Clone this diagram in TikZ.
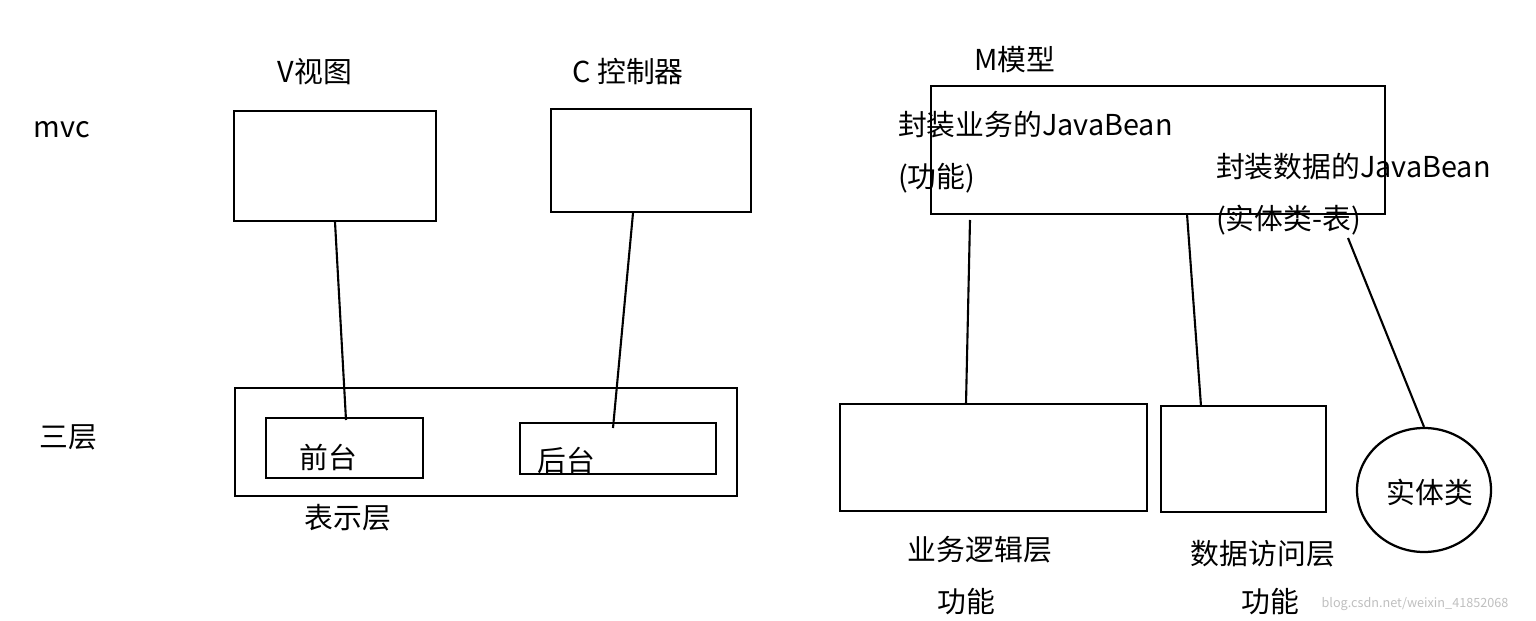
\documentclass[tikz,border=0pt]{standalone}
\usepackage{fontspec}
\setmainfont{Noto Sans CJK SC}
\usetikzlibrary{shapes.geometric}
\begin{document}
\begin{tikzpicture}[x=0.05cm,y=-0.05cm,
  bx/.style={draw,line width=3.2pt},
  ln/.style={line width=3pt},
  lbl/.style={inner sep=0pt,font=\fontsize{41}{46}\selectfont}]
\useasboundingbox (0,0) rectangle (1536,621);
\node[lbl] (mvc) at (62,130) {mvc};
\node[lbl] (vt) at (315,72) {V视图};
\node[lbl] (ct) at (628,72) {C 控制器};
\node[lbl] (mt) at (1015,60) {M模型};
\draw[bx] (234,111) rectangle (436,221);
\draw[bx] (551,109) rectangle (751,212);
\draw[bx] (931,86) rectangle (1385,214);
\node[lbl,anchor=west] (f1) at (898,125) {封装业务的JavaBean};
\node[lbl,anchor=west] (f2) at (898,178) {(功能)};
\node[lbl,anchor=west] (f3) at (1216,167) {封装数据的JavaBean};
\node[lbl,anchor=west] (f4) at (1216,220) {(实体类-表)};
\node[lbl] (sc) at (68,437) {三层};
\draw[bx] (235,388) rectangle (737,496);
\draw[bx] (266,418) rectangle (423,478);
\draw[bx] (520,423) rectangle (716,474);
\node[lbl] (qt) at (328,457) {前台};
\node[lbl] (ht) at (566,461) {后台};
\node[lbl] (bs) at (348,518) {表示层};
\coordinate (v1) at (335,222); \coordinate (v2) at (346,420);
\coordinate (c1) at (633,213); \coordinate (c2) at (613,428);
\draw[ln] (v1) -- (v2);
\draw[ln] (c1) -- (c2);
\draw[bx] (840,404) rectangle (1147,511);
\draw[bx] (1161,406) rectangle (1326,512);
\node[draw,ellipse,line width=3.2pt,minimum width=134*0.05cm,minimum height=124*0.05cm,inner sep=0pt] (st) at (1424,490) {};
\node[lbl] (stt) at (1430,492) {实体类};
\coordinate (m1) at (970,220); \coordinate (m2) at (966,404);
\coordinate (m3) at (1187,214); \coordinate (m4) at (1201,406);
\coordinate (m5) at (1348,238);
\draw[ln] (m1) -- (m2);
\draw[ln] (m3) -- (m4);
\draw[ln] (m5) -- (st.north);
\node[lbl] (yw) at (980,550) {业务逻辑层};
\node[lbl] (g1) at (966,602) {功能};
\node[lbl] (sj) at (1263,554) {数据访问层};
\node[lbl] (g2) at (1270,602) {功能};
\node[inner sep=0pt,text=black!25,font=\fontsize{18}{20}\selectfont] (wm) at (1415,604) {blog.csdn.net/weixin\_41852068};
\end{tikzpicture}
\end{document}
